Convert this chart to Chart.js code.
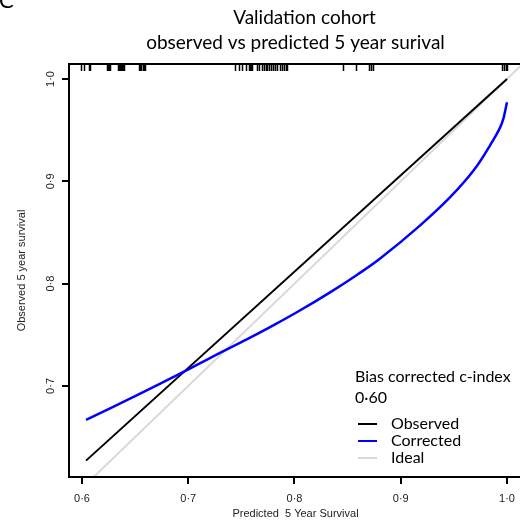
<!DOCTYPE html>
<html>
<head>
<meta charset="utf-8">
<script src="https://cdn.jsdelivr.net/npm/chart.js@4"></script>
<style>
  html, body { margin: 0; padding: 0; overflow: hidden; background: #fff; }
  canvas { display: block; }
</style>
</head>
<body>
<canvas id="chart" width="540" height="530"></canvas>
<script>
const xTicks = [0.6, 0.7, 0.8, 0.9, 1.0];
const yTicks = [0.7, 0.8, 0.9, 1.0];

const observedX = [0.6038, 1.0];
const observedY = [0.627, 1.0];

const correctedX = [0.6038, 0.65, 0.6923, 0.7236, 0.7551, 0.777, 0.8022, 0.8335, 0.8587, 0.8806,
  0.9183, 0.9465, 0.9685, 0.9842, 0.9952, 1.0];
const correctedY = [0.6668, 0.690, 0.712, 0.729, 0.7455, 0.7575, 0.772, 0.7915, 0.8085, 0.8245,
  0.857, 0.8845, 0.9105, 0.9355, 0.9568, 0.9773];

const idealX = [0.5, 1.1];
const idealY = [0.5, 1.1];

// predicted values shown as the rug along the top
const rugX = [0.599, 0.602, 0.607, 0.608, 0.6235, 0.6245, 0.6255, 0.6265,
  0.634, 0.635, 0.636, 0.637, 0.638, 0.639, 0.640,
  0.654, 0.655, 0.656, 0.657, 0.658, 0.659,
  0.744, 0.748, 0.7507, 0.7544, 0.757, 0.758, 0.759, 0.760,
  0.765, 0.767, 0.769, 0.771, 0.773, 0.774,
  0.776, 0.778, 0.780, 0.782, 0.784, 0.786, 0.788, 0.790, 0.792, 0.793,
  0.8458, 0.858, 0.870, 0.872, 0.874, 0.9955, 0.997, 0.999, 1.0];

const cIndex = "0\u00b760";
const legendLabels = ["Observed", "Corrected", "Ideal"];
const legendColors = ["#000000", "#0000ff", "#d9d9d9"];

function fmt(v) { return v.toFixed(1).replace(".", "\u00b7"); }
function pts(xs, ys) { return xs.map((x, i) => ({ x: x, y: ys[i] })); }

const axisFont = '11px "Liberation Sans", Arial, sans-serif';
const textFont = '"Lato", "Open Sans", sans-serif';

const frame = {
  id: "frame",
  afterDatasetsDraw(chart) {
    const ctx = chart.ctx;
    const a = chart.chartArea;
    const sx = chart.scales.x;
    const sy = chart.scales.y;
    ctx.save();

    // rug
    ctx.strokeStyle = "#000";
    ctx.lineWidth = 1.5;
    ctx.beginPath();
    rugX.forEach(v => {
      const px = Math.round(sx.getPixelForValue(v)) + 0.5;
      ctx.moveTo(px, a.top);
      ctx.lineTo(px, a.top + 7);
    });
    ctx.stroke();

    // box
    ctx.lineWidth = 2;
    ctx.strokeRect(a.left, a.top, a.right - a.left, a.bottom - a.top);

    // ticks + labels
    ctx.fillStyle = "#222";
    ctx.font = axisFont;
    ctx.beginPath();
    xTicks.forEach(v => {
      const px = Math.round(sx.getPixelForValue(v));
      ctx.moveTo(px, a.bottom);
      ctx.lineTo(px, a.bottom + 7);
    });
    yTicks.forEach(v => {
      const py = Math.round(sy.getPixelForValue(v));
      ctx.moveTo(a.left, py);
      ctx.lineTo(a.left - 7, py);
    });
    ctx.stroke();

    ctx.textAlign = "center";
    ctx.textBaseline = "middle";
    xTicks.forEach(v => {
      ctx.fillText(fmt(v), sx.getPixelForValue(v), a.bottom + 22);
    });
    yTicks.forEach(v => {
      ctx.save();
      ctx.translate(a.left - 18, sy.getPixelForValue(v));
      ctx.rotate(-Math.PI / 2);
      ctx.fillText(fmt(v), 0, 0);
      ctx.restore();
    });

    // axis titles
    const cx = (a.left + a.right) / 2 - 1;
    ctx.fillText("Predicted  5 Year Survival", cx, a.bottom + 37);
    ctx.save();
    ctx.translate(22, (a.top + a.bottom) / 2);
    ctx.rotate(-Math.PI / 2);
    ctx.fillText("Observed 5 year survival", 0, 0);
    ctx.restore();

    // title
    ctx.fillStyle = "#000";
    ctx.font = "19px " + textFont;
    ctx.fillText("Validation cohort", cx + 9, 18);
    ctx.fillText("observed vs predicted 5 year surival", cx, 43);

    // panel letter
    ctx.textAlign = "left";
    ctx.textBaseline = "alphabetic";
    ctx.font = "22px " + textFont;
    ctx.fillText("C", -1, 8);

    // legend
    ctx.textBaseline = "middle";
    ctx.font = "16px " + textFont;
    ctx.fillText("Bias corrected c-index", 355, 377);
    ctx.fillText(cIndex, 355, 398);
    legendLabels.forEach((lab, i) => {
      const ly = 424 + i * 17;
      ctx.strokeStyle = legendColors[i];
      ctx.lineWidth = 2;
      ctx.beginPath();
      ctx.moveTo(358, ly);
      ctx.lineTo(377, ly);
      ctx.stroke();
      ctx.fillStyle = "#000";
      ctx.fillText(lab, 391, ly);
    });

    ctx.restore();
  }
};

new Chart(document.getElementById("chart"), {
  type: "scatter",
  data: {
    datasets: [
      {
        label: legendLabels[0],
        data: pts(observedX, observedY),
        showLine: true,
        borderColor: legendColors[0],
        borderWidth: 2,
        pointRadius: 0,
        order: 1
      },
      {
        label: legendLabels[1],
        data: pts(correctedX, correctedY),
        showLine: true,
        borderColor: legendColors[1],
        borderWidth: 2.5,
        pointRadius: 0,
        tension: 0.4,
        order: 0
      },
      {
        label: legendLabels[2],
        data: pts(idealX, idealY),
        showLine: true,
        borderColor: legendColors[2],
        borderWidth: 2,
        pointRadius: 0,
        order: 2
      }
    ]
  },
  options: {
    responsive: false,
    animation: false,
    events: [],
    layout: { padding: { left: 69, top: 64, right: 16, bottom: 53 } },
    plugins: { legend: { display: false }, tooltip: { enabled: false } },
    scales: {
      x: { type: "linear", display: false, min: 0.5878, max: 1.016 },
      y: { type: "linear", display: false, min: 0.611, max: 1.0147 }
    }
  },
  plugins: [frame]
});
</script>
</body>
</html>
